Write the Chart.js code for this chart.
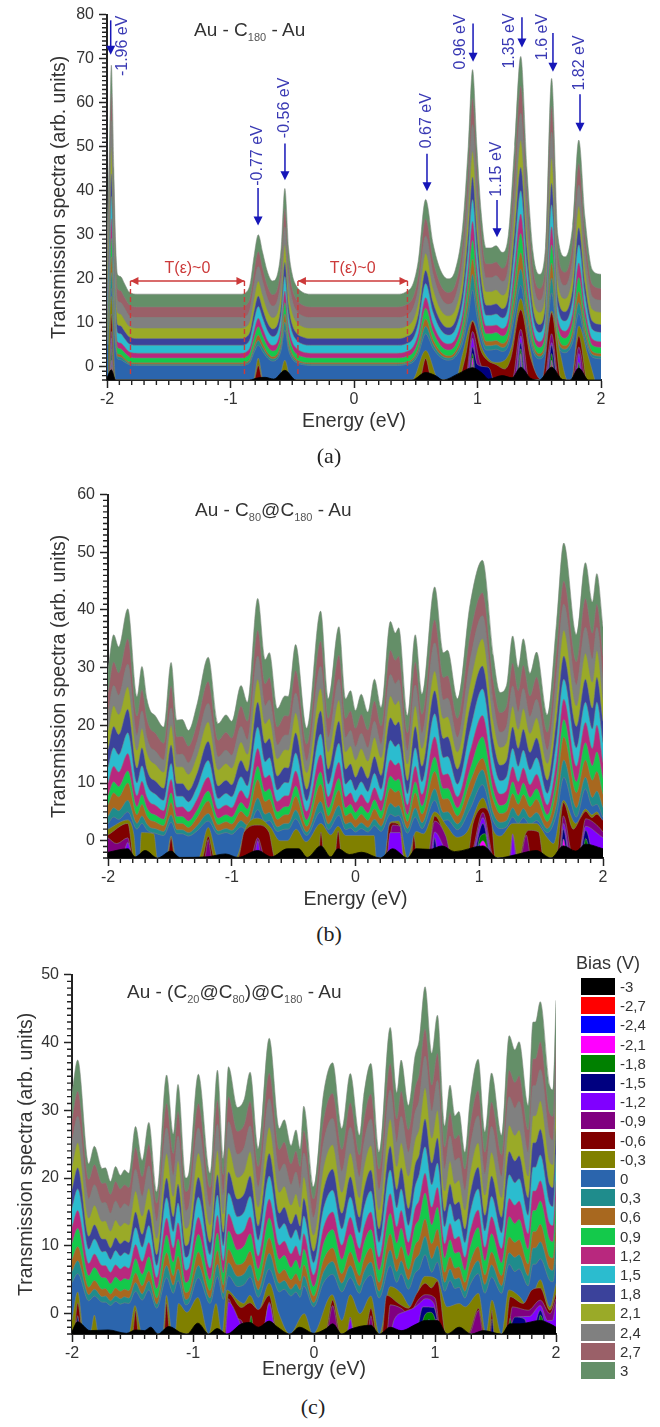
<!DOCTYPE html>
<html>
<head>
<meta charset="utf-8">
<title>Transmission spectra</title>
<script src="https://cdn.jsdelivr.net/npm/chart.js@4"></script>
<style>
body { margin: 0; background: #fff; font-family: "Liberation Sans", Arial, sans-serif; color: #333; }
#page { position: relative; width: 660px; height: 1427px; overflow: hidden; }
canvas { position: absolute; left: 0; }
.label { position: absolute; white-space: nowrap; font-size: 19px; line-height: 22px; }
.label sub { font-size: 11px; line-height: 0; color: #555; }
.caption { position: absolute; font-family: "Liberation Serif", serif; font-size: 22px; line-height: 26px; color: #222; transform: translateX(-50%); }
#legendTitle { position: absolute; left: 576px; top: 952px; font-size: 18px; line-height: 22px; }
.swatch { position: absolute; left: 581px; width: 34px; height: 17px; }
.swatchText { position: absolute; left: 620px; font-size: 15px; line-height: 18px; }
</style>
</head>
<body>
<div id="page">
<canvas id="chartA" width="660" height="433" style="top:0"></canvas>
<canvas id="chartB" width="660" height="431" style="top:480px"></canvas>
<canvas id="chartC" width="660" height="421" style="top:960px"></canvas>
<div class="label" style="left:194px;top:19px">Au - C<sub>180</sub> - Au</div>
<div class="label" style="left:195px;top:499px">Au - C<sub>80</sub>@C<sub>180</sub> - Au</div>
<div class="label" style="left:127px;top:981px">Au - (C<sub>20</sub>@C<sub>80</sub>)@C<sub>180</sub> - Au</div>
<div class="caption" style="left:329px;top:443px">(a)</div>
<div class="caption" style="left:329px;top:921px">(b)</div>
<div class="caption" style="left:313px;top:1394px">(c)</div>
<div id="legendTitle">Bias (V)</div>
</div>
<script>
const biasLabels = ['-3','-2,7','-2,4','-2,1','-1,8','-1,5','-1,2','-0,9','-0,6','-0,3','0','0,3','0,6','0,9','1,2','1,5','1,8','2,1','2,4','2,7','3'];
const biasColors = ['#000000','#ff0000','#0000ff','#ff00ff','#008000','#000080','#8000ff','#800080','#800000','#808000','#2b65ad','#1f8c8c','#a8681f','#14c94b','#b8287e','#2bbccf','#3b429b','#9aaa28','#808080','#9a6068','#648f68'];
const energyTicks = [-2,-1,0,1,2];

// panel (a) Au - C180 - Au
const aE = [-2,-1.98,-1.965,-1.945,-1.93,-1.915,-1.89,-1.86,-1.82,-1.75,-0.92,-0.87,-0.84,-0.81,-0.775,-0.74,-0.7,-0.66,-0.62,-0.59,-0.56,-0.53,-0.5,-0.47,-0.42,-0.35,0.35,0.42,0.48,0.52,0.58,0.64,0.7,0.76,0.82,0.88,0.925,0.96,0.995,1.03,1.07,1.11,1.15,1.2,1.25,1.3,1.35,1.4,1.45,1.5,1.55,1.6,1.65,1.71,1.77,1.82,1.87,1.93,2];
const aT30 = [30,50,68.5,45,28,21,20.5,19,17,16.5,16.5,17,19,25,30,26,21.5,19.5,21,27,40.5,27,21,18.5,17,16.5,16.5,17,19,24,38,28,22,20,22,32,50,67.5,50,35,27,27,27.5,26,30,50,70.5,45,26,21,27,65.5,30,25,32,51.5,34,22,21];
const aT27 = [26.2,44.8,62,40.1,24.3,17.8,17.3,15.9,14.1,13.6,13.6,14.1,15.9,21.5,26.2,22.4,18.3,16.4,17.8,23.4,35.9,23.4,17.8,15.5,14.1,13.6,13.6,14.1,15.9,20.6,33.6,24.3,18.7,16.9,18.7,28,44.8,61,44.8,30.8,23.4,23.4,23.8,22.4,26.2,44.8,63.8,40.1,22.4,17.8,23.4,59.2,26.2,21.5,28,46.2,29.9,18.7,17.8];
const aT24 = [22.8,40,55.9,35.7,21.1,15.1,14.6,13.4,11.6,11.2,11.2,11.6,13.4,18.5,22.8,19.4,15.5,13.8,15.1,20.2,31.8,20.2,15.1,12.9,11.6,11.2,11.2,11.6,13.4,17.7,29.7,21.1,15.9,14.2,15.9,24.5,40,55,40,27.1,20.2,20.2,20.7,19.4,22.8,40,57.6,35.7,19.4,15.1,20.2,53.3,22.8,18.5,24.5,41.3,26.2,15.9,15.1];
const aT21 = [19.5,35.3,49.9,31.3,17.9,12.4,12,10.8,9.2,8.8,8.8,9.2,10.8,15.5,19.5,16.3,12.8,11.2,12.4,17.1,27.8,17.1,12.4,10.4,9.2,8.8,8.8,9.2,10.8,14.7,25.8,17.9,13.1,11.6,13.1,21,35.3,49,35.3,23.4,17.1,17.1,17.5,16.3,19.5,35.3,51.5,31.3,16.3,12.4,17.1,47.5,19.5,15.5,21,36.5,22.6,13.1,12.4];
const aT18 = [16.1,30.5,43.8,26.9,14.7,9.6,9.3,8.2,6.8,6.4,6.4,6.8,8.2,12.5,16.1,13.2,10,8.6,9.6,14,23.7,14,9.6,7.8,6.8,6.4,6.4,6.8,8.2,11.8,21.9,14.7,10.4,8.9,10.4,17.6,30.5,43.1,30.5,19.7,14,14,14.3,13.2,16.1,30.5,45.3,26.9,13.2,9.6,14,41.7,16.1,12.5,17.6,31.6,19,10.4,9.6];
const aT15 = [13.7,26.7,38.7,23.4,12.4,7.8,7.5,6.5,5.2,4.9,4.9,5.2,6.5,10.4,13.7,11.1,8.2,6.9,7.8,11.7,20.5,11.7,7.8,6.2,5.2,4.9,4.9,5.2,6.5,9.8,18.9,12.4,8.5,7.2,8.5,15,26.7,38,26.7,16.9,11.7,11.7,12,11.1,13.7,26.7,40,23.4,11.1,7.8,11.7,36.8,13.7,10.4,15,27.7,16.3,8.5,7.8];
const aT12 = [11,22.7,33.6,19.8,9.8,5.7,5.4,4.6,3.4,3.1,3.1,3.4,4.6,8.1,11,8.7,6,4.9,5.7,9.3,17.2,9.3,5.7,4.3,3.4,3.1,3.1,3.4,4.6,7.5,15.7,9.8,6.3,5.2,6.3,12.2,22.7,33,22.7,14,9.3,9.3,9.5,8.7,11,22.7,34.7,19.8,8.7,5.7,9.3,31.8,11,8.1,12.2,23.6,13.4,6.3,5.7];
const aT09 = [9.1,19.6,29.2,16.9,8,4.4,4.1,3.3,2.3,2,2,2.3,3.3,6.5,9.1,7,4.6,3.6,4.4,7.5,14.6,7.5,4.4,3,2.3,2,2,2.3,3.3,5.9,13.3,8,4.9,3.8,4.9,10.1,19.6,28.7,19.6,11.7,7.5,7.5,7.8,7,9.1,19.6,30.3,16.9,7,4.4,7.5,27.7,9.1,6.5,10.1,20.3,11.2,4.9,4.4];
const aT06 = [7.2,16.4,25,14.1,6.2,3,2.8,2,1.1,0.9,0.9,1.1,2,4.8,7.2,5.3,3.2,2.3,3,5.8,12,5.8,3,1.8,1.1,0.9,0.9,1.1,2,4.4,10.9,6.2,3.5,2.5,3.5,8.1,16.4,24.5,16.4,9.5,5.8,5.8,6,5.3,7.2,16.4,25.9,14.1,5.3,3,5.8,23.6,7.2,4.8,8.1,17.1,9,3.5,3];
const aT03 = [6,14,21.4,12,5.2,2.4,2.2,1.6,0.8,0.6,0.6,0.8,1.6,4,6,4.4,2.6,1.8,2.4,4.8,10.2,4.8,2.4,1.4,0.8,0.6,0.6,0.8,1.6,3.6,9.2,5.2,2.8,2,2.8,6.8,14,21,14,8,4.8,4.8,5,4.4,6,14,22.2,12,4.4,2.4,4.8,20.2,6,4,6.8,14.6,7.6,2.8,2.4];
const aT00 = [4.9,11.6,17.8,9.9,4.2,1.8,1.6,1.1,0.5,0.3,0.3,0.5,1.1,3.2,4.9,3.5,2,1.3,1.8,3.8,8.4,3.8,1.8,1,0.5,0.3,0.3,0.5,1.1,2.8,7.5,4.2,2.2,1.5,2.2,5.5,11.6,17.5,11.6,6.5,3.8,3.8,4,3.5,4.9,11.6,18.5,9.9,3.5,1.8,3.8,16.8,4.9,3.2,5.5,12.1,6.2,2.2,1.8];
// low bias layers only show up under the peaks, so they keep their own points
const aOliveE = [-1.99,-1.965,-1.93,-0.815,-0.775,-0.735,-0.61,-0.56,-0.51,0.47,0.58,0.69,0.82,0.88,0.96,1.04,1.1,1.15,1.22,1.28,1.35,1.42,1.49,1.53,1.6,1.67,1.73,1.76,1.82,1.89,1.95];
const aOliveT = [5,16,-3,-3,2,-3,-3,1.5,-3,-3,3.7,-3,-3,3,10.5,4,1.5,1,1.5,5,15.5,5,-3,-3,12.7,3,-3,-3,9.3,3,-3];
const aMaroonE = [-1.985,-1.965,-1.94,-0.81,-0.775,-0.74,0.53,0.58,0.63,0.84,0.9,0.96,1.03,1.08,1.15,1.22,1.27,1.35,1.43,1.52,1.6,1.68,1.76,1.82,1.88];
const aMaroonT = [-3,12,-3,-3,0.3,-3,-3,1.9,-3,-3,2,10.3,3.5,1.5,0.5,-0.5,2,13,2,-3,12.3,-3,-3,7,-3];
const aPurpleE = [-1.98,-1.965,-1.945,0.9,0.96,1.02,1.1,1.28,1.35,1.42,1.54,1.6,1.66,1.77,1.82,1.87];
const aPurpleT = [-3,8,-3,-3,8,1,-3,-3,8.5,-3,-3,7.5,-3,-3,4.5,-3];
const aVioletE = [-1.975,-1.965,-1.95,0.91,0.96,1.01,1.3,1.35,1.4,1.55,1.6,1.65,1.79,1.82,1.85];
const aVioletT = [-3,6.5,-3,-3,6.5,-3,-3,7,-3,-3,5.5,-3,-3,3,-3];
const aNavyE = [-1.975,-1.965,-1.955,0.92,0.96,1,1.07,1.1,1.13,1.31,1.35,1.39,1.56,1.6,1.64];
const aNavyT = [-3,5,-3,-3,4.5,0.5,0,-0.5,-3,-3,5.5,-3,-3,4.9,-3];
const aGreenE = [-1.975,-1.965,-1.955,0.93,0.96,0.99,1.32,1.35,1.38,1.57,1.6,1.63,1.8,1.82,1.84];
const aGreenT = [-3,4,-3,-3,3,-3,-3,4.1,-3,-3,3,-3,-3,1,-3];
const aMagentaE = [-1.975,-1.965,-1.955,0.94,0.96,0.98,1.33,1.35,1.37,1.58,1.6,1.62];
const aMagentaT = [-3,1.5,-3,-3,2,-3,-3,3,-3,-3,1.5,-3];
const aBlueE = [-1.975,-1.965,-1.955,0.95,0.96,0.97,1.34,1.35,1.36,1.59,1.6,1.61];
const aBlueT = [-3,0.5,-3,-3,0.5,-3,-3,2.5,-3,-3,1,-3];
const aRedE = [-1.975,-1.965,-1.955,1.585,1.6,1.615];
const aRedT = [-3,0,-3,-3,0.5,-3];
const aBlackE = [-2,-1.965,-1.93,-0.85,-0.775,-0.72,-0.65,-0.56,-0.47,0.47,0.58,0.66,0.72,0.85,0.96,1.04,1.09,1.2,1.28,1.35,1.43,1.5,1.6,1.69,1.75,1.82,1.9,2];
const aBlackT = [-2.5,-0.7,-3,-3,-2.5,-2.4,-2.8,-0.8,-3,-3,-1.3,-2,-3,-1.5,-0.2,-1.5,-2.8,-2,-2.5,-0.1,-2.6,-3,-0.1,-2.9,-3,-0.3,-3,-3];

// panel (b) Au - C80@C180 - Au
const bE = [-2,-1.954,-1.914,-1.84,-1.766,-1.726,-1.686,-1.66,-1.62,-1.55,-1.49,-1.444,-1.4,-1.35,-1.28,-1.19,-1.11,-1.046,-1,-0.925,-0.874,-0.79,-0.73,-0.696,-0.632,-0.57,-0.543,-0.484,-0.395,-0.282,-0.22,-0.134,-0.08,-0.04,0,0.046,0.1,0.153,0.207,0.282,0.322,0.349,0.42,0.483,0.537,0.64,0.71,0.744,0.824,0.926,1.026,1.114,1.168,1.22,1.27,1.315,1.356,1.41,1.463,1.55,1.624,1.683,1.785,1.858,1.914,1.95,2];
const bT30 = [29.7,35.7,33.6,40.2,25,30.2,24.6,22.6,21.7,19.7,30.9,20.9,21,19.1,23.7,31.8,20.3,21.8,20.7,26.9,24,42,31.4,32.6,22.9,25.1,25,34,19.5,39.8,24.6,37.1,24.6,26,22.6,25.4,22.3,28,23.1,38,36,36.9,21.7,35.7,25.4,44,32.6,33,24.6,41,48.6,32,25.7,26.9,35.5,30,35,29,32.7,21.8,37.7,51.6,35.7,48.2,41.4,46.3,37];
const bT27 = [25.7,31,29.1,35,21.6,26.2,21.2,19.5,18.7,16.9,26.8,18,18.1,16.4,20.4,27.6,17.4,18.8,17.8,23.3,20.7,36.5,27.2,28.3,19.7,21.7,21.6,29.5,16.7,34.6,21.2,32.2,21.2,22.5,19.5,21.9,19.2,24.2,19.9,33,31.3,32,18.7,31,21.9,38.3,28.3,28.6,21.2,35.7,43,27.7,22.2,23.3,30.8,26,30.4,25.1,28.4,18.8,32.8,45,31,42,36,41,32];
const bT24 = [22.1,26.9,25.2,30.6,18.3,22.5,17.9,16.3,15.6,14,23,14.9,15,13.5,17.2,23.8,14.5,15.7,14.8,19.8,17.5,32,23.4,24.4,16.6,18.3,18.3,25.6,13.8,30.2,17.9,28,17.9,19.1,16.3,18.6,16.1,20.7,16.7,28.8,27.2,27.9,15.6,27,18.6,34.3,24.4,24.7,17.9,31.2,39,23.9,18.8,19.8,26.8,22.3,26.4,21.5,24.5,15.7,28.5,41,27,37,31.5,37,28];
const bT21 = [19.1,23.4,21.9,26.7,15.7,19.5,15.4,14,13.3,11.9,20,12.8,12.8,11.5,14.8,20.6,12.3,13.4,12.6,17.1,15,28,20.3,21.2,14.2,15.8,15.7,22.2,11.8,26.4,15.4,24.4,15.4,16.4,14,16,13.8,17.9,14.4,25.1,23.6,24.3,13.3,23.4,16,29.4,21.2,21.5,15.4,27.2,35,20.8,16.2,17.1,23.3,19.3,22.9,18.6,21.3,13.4,24.9,36.5,23.4,32.5,27.5,33,24.4];
const bT18 = [15.8,19.8,18.4,22.8,12.6,16.1,12.4,11,10.4,9.1,16.6,9.9,9.9,8.7,11.7,17.2,9.5,10.5,9.7,13.9,12,24,16.9,17.7,11.2,12.7,12.6,18.7,8.9,22.5,12.4,20.7,12.4,13.3,11,12.9,10.8,14.6,11.3,21.3,20,20.6,10.4,19.8,12.9,26,17.7,18,12.4,23.3,30.3,17.3,13.1,13.9,19.7,16,19.3,15.3,17.8,10.5,21.1,32,19.8,28,23,28.3,20.7];
const bT15 = [12.7,16.1,14.9,18.7,10,13,9.8,8.7,8.1,7,13.4,7.7,7.7,6.7,9.3,13.9,7.3,8.2,7.6,11.1,9.5,19.7,13.7,14.4,8.8,10.1,10,15.2,6.9,18.5,9.8,16.9,9.8,10.6,8.7,10.2,8.5,11.7,8.9,17.4,16.3,16.8,8.1,16.1,10.2,22,14.4,14.6,9.8,19.1,26.3,14,10.4,11.1,16,12.9,15.7,12.3,14.4,8.2,17.3,28,16.1,24,19.4,24,17];
const bT12 = [10,12.9,11.9,15.1,7.8,10.3,7.6,6.6,6.2,5.2,10.6,5.8,5.9,5,7.2,11,5.5,6.2,5.7,8.7,7.3,16,10.9,11.4,6.8,7.8,7.8,12.1,5.1,14.9,7.6,13.6,7.6,8.3,6.6,8,6.5,9.2,6.9,14,13.1,13.5,6.2,12.9,8,18,11.4,11.6,7.6,15.5,21.7,11.1,8.1,8.7,12.8,10.2,12.6,9.7,11.5,6.2,13.9,24.5,12.9,20.5,16,20,13.5];
const bT09 = [7.8,10.2,9.4,12.1,5.9,8,5.7,4.9,4.5,3.7,8.3,4.2,4.2,3.4,5.3,8.6,3.9,4.5,4.1,6.6,5.5,12.9,8.5,9,5,5.9,5.9,9.5,3.6,11.9,5.7,10.8,5.7,6.3,4.9,6,4.8,7.1,5.1,11.2,10.4,10.7,4.5,10.2,6,14.5,9,9.1,5.7,12.4,18,8.7,6.1,6.6,10.2,7.9,10,7.5,9,4.5,11,21,10.2,17,13,15.4,10.8];
const bT06 = [6.2,8.3,7.6,10,4.5,6.3,4.3,3.6,3.3,2.6,6.6,3,3,2.3,4,6.9,2.8,3.3,2.9,5.1,4.1,10.6,6.8,7.2,3.7,4.5,4.5,7.7,2.5,9.8,4.3,8.8,4.3,4.8,3.6,4.6,3.5,5.5,3.8,9.1,8.4,8.7,3.3,8.3,4.6,12,7.2,7.3,4.3,10.2,14.3,7,4.7,5.1,8.2,6.3,8,5.9,7.2,3.3,9,18,8.3,14,10.5,12,8];
const bT03 = [4.2,5.7,5.2,7,3,4.3,2.9,2.3,2.1,1.6,4.5,1.9,1.9,1.4,2.6,4.7,1.7,2.1,1.8,3.5,2.7,7.4,4.6,4.9,2.4,3,3,5.3,1.5,6.8,2.9,6.1,2.9,3.2,2.3,3.1,2.3,3.7,2.5,6.5,5.8,6.1,2.1,5.7,3.1,9,4.9,5,2.9,7.7,12.3,4.8,3.2,3.5,5.7,4.3,5.6,4,4.9,2.1,6.3,14,5.7,11,7.5,8.6,5.7];
const bT00 = [2.9,4.1,3.7,5,2,3,1.9,1.5,1.3,0.9,3.2,1.2,1.2,0.8,1.7,3.4,1.1,1.4,1.1,2.4,1.8,5.4,3.3,3.5,1.6,2,2,3.8,0.9,5,1.9,4.4,1.9,2.2,1.5,2.1,1.5,2.6,1.6,4.6,4.2,4.4,1.3,4.1,2.1,7,3.5,3.6,1.9,5.5,9.7,3.4,2.1,2.4,4.1,3,4,2.8,3.5,1.4,4.5,11,4.1,9,6,6.3,4];
const bOliveE = [-2,-1.84,-1.79,-1.77,-1.745,-1.73,-1.63,-1.6,-1.53,-1.49,-1.45,-1.27,-1.19,-1.11,-0.97,-0.88,-0.79,-0.69,-0.61,-0.55,-0.48,-0.4,-0.28,-0.2,-0.14,-0.08,0.15,0.17,0.23,0.28,0.35,0.42,0.49,0.55,0.64,0.74,0.82,0.9,1.03,1.12,1.17,1.27,1.36,1.46,1.55,1.6,1.68,1.78,1.86,1.91,1.95,2];
const bOliveT = [2,3.6,1,-3,-3,1.4,1.2,-3,-3,0.8,-3,-3,2.3,-3,-3,2.6,3.9,2.4,0,0,2,-0.2,3,1,2.5,0.9,0.9,-3,-3,3.2,3.4,-3,1.6,1.2,5,2.5,0.6,1.5,7.4,1.5,0.8,3,3,3,0.5,-0.5,7,3,5.5,4.5,5,3];
const bMaroonE = [-2,-1.84,-1.79,-1.52,-1.49,-1.46,-1.24,-1.19,-1.14,-0.95,-0.9,-0.79,-0.7,-0.65,-0.3,-0.28,-0.25,-0.17,-0.14,-0.11,0.24,0.27,0.3,0.35,0.39,0.45,0.47,0.5,0.58,0.64,0.72,0.78,0.9,0.95,1.03,1.1,1.13,1.32,1.37,1.4,1.48,1.52,1.62,1.68,1.76,1.82,1.86,1.91,1.95,2];
const bMaroonT = [1,3,-3,-3,0.5,-3,-3,0.8,-3,-3,1.5,2.7,1.5,-3,-3,1.5,-3,-3,1.7,-3,-3,2.5,3.1,2.8,-3,-3,0.9,-3,-3,4.3,1,-3,-3,3,5.7,3,-3,-3,1,1.8,1.5,-3,-3,6.6,2,4,5.1,4,4.6,3.5];
const bPurpleE = [-2,-1.93,-1.84,-1.8,-1.22,-1.19,-1.16,-0.85,-0.79,-0.73,0.25,0.3,0.36,0.39,0.58,0.64,0.73,0.78,0.92,1.03,1.12,1.24,1.27,1.31,1.33,1.38,1.42,1.64,1.68,1.76,1.8,1.86,1.96,2];
const bPurpleT = [0.5,-0.5,0.5,-3,-3,0.2,-3,-3,0.5,-3,-3,2.7,2.5,-3,-3,3.4,0.8,-3,-3,4.9,-3,-3,1.2,-3,-3,1,-3,-3,4.3,-3,-3,3.8,2.5,1.5];
const bVioletE = [-1.88,-1.84,-1.8,-0.82,-0.79,-0.76,0.25,0.28,0.36,0.39,0.6,0.64,0.7,0.74,0.93,1.03,1.11,1.25,1.27,1.3,1.65,1.68,1.74,1.8,1.86,1.97,2];
const bVioletT = [-3,-0.3,-3,-3,0,-3,-3,1.4,1.4,-3,-3,1.5,-0.5,-3,-3,4,-3,-3,1.1,-3,-3,3,-3,-3,2.5,1,0.5];
const bNavyE = [0.62,0.64,0.67,0.94,1.03,1.1,1.65,1.68,1.73,1.81,1.86,1.92];
const bNavyT = [-3,0.5,-3,-3,3,-3,-3,2,-3,-3,1.8,-3];
const bGreenE = [0.97,1.01,1.05,1.08,1.83,1.86,1.9];
const bGreenT = [-3,0.8,1.2,-3,-3,0.4,-3];
const bMagentaE = [0.96,1.03,1.1,1.66,1.68,1.71];
const bMagentaT = [-3,0,-3,-3,0.3,-3];
const bBlueE = [0.98,1,1.02];
const bBlueT = [-3,-0.5,-3];
const bRedE = [1.67,1.68,1.69];
const bRedT = [-3,-1,-3];
const bBlackE = [-2,-1.84,-1.78,-1.7,-1.6,-1.49,-1.42,-1.2,-1.05,-0.95,-0.79,-0.68,-0.55,-0.46,-0.39,-0.28,-0.2,-0.14,-0.05,0.05,0.2,0.3,0.42,0.49,0.6,0.7,0.8,1.03,1.15,1.3,1.46,1.58,1.68,1.78,1.86,2];
const bBlackT = [-2,-1.4,-2.8,-1.7,-3,-1.8,-2.9,-2.8,-2.3,-2.9,-1.7,-2.8,-1.4,-1.4,-2.9,-0.9,-2.8,-1.4,-2.4,-2,-3,-1.4,-3,-1.4,-1.5,-0.9,-1.9,-0.9,-3,-2.4,-1.7,-3,-0.9,-1.8,-0.6,-1.4];

// panel (c) Au - (C20@C80)@C180 - Au
const cE = [-2,-1.953,-1.862,-1.815,-1.75,-1.724,-1.682,-1.64,-1.6,-1.566,-1.53,-1.475,-1.42,-1.365,-1.3,-1.218,-1.163,-1.124,-1.06,-1.033,-0.956,-0.859,-0.798,-0.749,-0.707,-0.633,-0.577,-0.528,-0.461,-0.37,-0.287,-0.246,-0.19,-0.149,-0.115,-0.085,-0.003,0.08,0.154,0.23,0.3,0.376,0.41,0.47,0.538,0.63,0.684,0.72,0.78,0.835,0.87,0.918,0.973,1.02,1.08,1.124,1.165,1.198,1.247,1.288,1.357,1.412,1.467,1.55,1.613,1.66,1.695,1.77,1.81,1.83,1.87,1.948,1.975,2];
const cT30 = [32.6,37.4,22.1,24.7,21.4,21.5,19.5,21.7,20.4,21.2,20.7,27.6,22.6,28.2,18,35.2,26.5,33.8,20,20.9,35.3,20.7,35.9,22.9,36.4,30.4,31.6,35.6,24.3,40.6,27.3,28.6,24.8,27.1,24.3,30.6,18.7,32.6,37,27.3,35.4,26.3,32,36.9,23.8,42.2,32.6,37.4,30.7,38,40.4,48.2,38.4,44,27.7,33.7,29.2,29.8,23.8,31.1,37.5,26.8,35.5,26.3,41,38.9,40.1,30.7,43,43,46,33.6,33,46.2];
const cT27 = [28.7,32.8,19.8,22,19.2,19.3,17.6,19.5,18.4,19,18.6,24.5,20.2,25,16.3,31,23.6,29.8,18,18.8,31,18.6,31.5,20.5,32,26.9,27.9,31.3,21.7,35.5,24.2,25.3,22.1,24,21.7,27,16.9,28.7,32.5,24.2,31.1,23.4,28.2,32.4,21.3,36.9,28.7,32.8,27.1,33.3,35.4,42,33.7,38.4,24.6,29.7,25.8,26.4,21.3,27.5,32.9,23.8,31.2,23.4,35.9,34.1,35.1,27.1,37.6,37.6,40.1,29.6,29.1,40.3];
const cT24 = [25.3,29.1,16.9,19,16.3,16.4,14.8,16.6,15.5,16.2,15.8,21.3,17.3,21.8,13.6,27.4,20.4,26.2,15.2,15.9,27.4,15.8,27.9,17.5,28.3,23.5,24.5,27.7,18.6,31.7,21,22.1,19,20.9,18.6,23.7,14.2,25.3,28.8,21,27.5,20.2,24.8,28.7,18.2,33,25.3,29.1,23.8,29.6,31.5,38,29.9,34.4,21.4,26.2,22.6,23,18.2,24.1,29.2,20.6,27.6,20.2,32,30.3,31.3,23.8,33.6,33.6,36,26.1,25.6,36.2];
const cT21 = [21.7,25.2,14.1,16,13.6,13.7,12.2,13.8,12.9,13.4,13.1,18.1,14.4,18.5,11.1,23.6,17.3,22.6,12.6,13.2,23.7,13.1,24.1,14.7,24.5,20.1,21,23.9,15.7,27.5,17.9,18.8,16,17.7,15.7,20.2,11.6,21.7,24.9,17.9,23.7,17.1,21.3,24.8,15.3,28.7,21.7,25.2,20.3,25.6,27.4,33.3,25.9,30,18.1,22.5,19.2,19.7,15.3,20.6,25.2,17.5,23.8,17.1,27.8,26.3,27.1,20.3,29.2,29.2,31.4,22.4,22,31.6];
const cT18 = [18.3,21.5,11.4,13.1,11,11,9.7,11.2,10.3,10.8,10.5,15,11.7,15.4,8.7,20,14.3,19.1,10,10.6,20.1,10.5,20.5,12,20.9,16.9,17.7,20.3,12.9,23.6,14.8,15.7,13.2,14.7,12.9,17,9.2,18.3,21.3,14.8,20.2,14.2,18,21.2,12.5,24.7,18.3,21.5,15.5,21.9,23.5,28.7,22.2,25.9,15.1,19.1,16.1,16.5,12.5,17.4,21.6,14.5,20.3,14.2,23.9,22.5,23.3,17.1,25.2,25.2,27.2,19,18.6,27.3];
const cT15 = [15.6,18.4,9.5,11,9.1,9.2,8,9.3,8.5,9,8.7,12.7,9.8,13,7.1,17.1,12.1,16.3,8.3,8.8,17.2,8.7,17.5,10,17.8,14.3,15,17.3,10.8,20.3,12.5,13.3,11.1,12.4,10.8,14.4,7.5,15.6,18.2,12.5,17.2,11.9,15.3,18.1,10.5,21.2,15.6,18.4,13,18.7,20.6,24.6,19,22.2,12.8,16.2,13.6,14,10.5,14.7,18.4,12.2,17.3,11.9,20.5,19.3,19.9,14.5,21.6,21.6,23.4,16.2,15.8,23.5];
const cT12 = [12.8,15.2,7.4,8.8,7.1,7.1,6.1,7.2,6.6,7,6.7,10.2,7.7,10.5,5.3,14.1,9.7,13.4,6.4,6.8,14.2,6.7,14.5,7.8,14.7,11.7,12.3,14.3,8.5,16.9,10.1,10.7,8.8,10,8.5,11.8,5.7,12.8,15,10.1,14.2,9.6,12.5,15,8.3,17.7,12.8,15.2,10.5,15.5,16.8,20.7,15.7,18.6,10.3,13.3,11,11.4,8.3,12,15.3,9.8,14.3,9.6,17,16,16.6,11.8,18.1,18.1,19.6,13.3,13,19.7];
const cT09 = [10.4,12.6,5.6,6.8,5.3,5.3,4.4,5.4,4.8,5.2,5,8.1,5.8,8.4,3.7,11.6,7.6,11,4.6,5,11.7,5,11.9,6,12.2,9.4,10,11.8,6.6,14.1,8,8.6,6.8,7.9,6.6,9.5,4,10.4,12.4,8,11.7,7.5,10.2,12.4,6.4,14.8,10.4,12.6,8.5,12.9,14,17.8,13.1,15.7,8.2,10.9,8.9,9.1,6.4,9.7,12.7,7.8,11.8,7.5,14.3,13.3,13.9,9.5,15.2,15.2,16.6,10.9,10.6,16.7];
const cT06 = [8,9.9,3.9,4.9,3.6,3.7,2.9,3.8,3.3,3.6,3.4,6,4.1,6.3,2.3,9,5.6,8.5,3.1,3.4,9.1,3.4,9.3,4.2,9.5,7.2,7.6,9.2,4.8,11.2,5.9,6.5,5,5.9,4.8,7.2,2.6,8,9.7,5.9,9.1,5.6,7.8,9.7,4.6,11.8,8,9.9,6.5,10.1,11,14,10.3,12.5,6.1,8.4,6.7,6.9,4.6,7.4,9.9,5.7,9.1,5.6,11.3,10.5,10.9,7.3,12.1,12.1,13.2,8.4,8.2,13.3];
const cT03 = [6.2,7.8,2.8,3.6,2.5,2.6,1.9,2.6,2.2,2.5,2.3,4.6,2.9,4.8,1.4,7.1,4.2,6.6,2.1,2.4,7.1,2.3,7.3,3,7.5,5.5,5.9,7.2,3.5,8.9,4.5,4.9,3.6,4.4,3.5,5.6,1.6,6.2,7.7,4.5,7.1,4.1,6,7.6,3.3,9.4,6.2,7.8,5,8,8.8,11.4,8.1,10,4.6,6.6,5.1,5.3,3.3,5.7,7.8,4.3,7.2,4.1,9,8.3,8.7,5.6,9.7,9.7,10.6,6.6,6.4,10.7];
const cT00 = [4.6,5.9,1.9,2.6,1.7,1.7,1.2,1.8,1.4,1.6,1.5,3.3,2,3.5,0.8,5.3,3,4.9,1.3,1.6,5.3,1.5,5.5,2.1,5.6,4,4.3,5.4,2.4,6.6,3.2,3.6,2.6,3.2,2.4,4.1,1,4.6,5.8,3.2,5.3,3,4.5,5.7,2.3,7.1,4.6,5.9,3.6,6,6.6,8.7,6.1,7.6,3.3,4.9,3.7,3.9,2.3,4.2,5.9,3,5.4,3,7.3,6.2,6.6,4.1,7.3,7.3,8.1,4.9,4.7,8.1];
const cOliveE = [-2,-1.953,-1.9,-1.85,-1.815,-1.78,-1.53,-1.48,-1.42,-1.25,-1.22,-1.17,-1.15,-1.12,-1.05,-0.96,-0.87,-0.81,-0.76,-0.72,-0.63,-0.58,-0.53,-0.46,-0.37,-0.29,-0.2,-0.08,-0.01,0.15,0.23,0.3,0.38,0.47,0.54,0.63,0.72,0.8,0.918,1.02,1.1,1.2,1.25,1.36,1.42,1.47,1.55,1.61,1.7,1.77,1.87,1.95,2];
const cOliveT = [-1,3.2,-3,-3,-0.2,-3,-3,1.2,-3,-3,2.7,-3,-3,1.5,0.2,2.4,-3,1.5,-3,3.5,2,1.5,2.7,0.5,4.5,0,-3,0,-3,2.8,-1,2.8,0,2.6,-3,4,3,1,5.5,5,1,1.5,1,3,-3,2,-3,3.5,2.5,1,5,1,4.5];
const cMaroonE = [-1.98,-1.953,-1.91,-1.5,-1.475,-1.45,-1.24,-1.22,-1.19,-0.74,-0.707,-0.6,-0.53,-0.46,-0.37,-0.3,0.09,0.154,0.22,0.27,0.3,0.33,0.42,0.47,0.52,0.56,0.6,0.7,0.78,0.85,0.92,0.97,1.02,1.09,1.27,1.36,1.41,1.45,1.47,1.49,1.58,1.62,1.73,1.8,1.87,1.95,2];
const cMaroonT = [-3,1.6,-3,-3,0.5,-3,-3,1.6,-3,-3,3,0.9,1.6,0.6,2.7,-3,-3,2,-3,-3,-0.5,-3,-3,0.8,-3,-3,2.7,1.5,0.8,3,4.5,3.8,4.8,-3,-3,0.8,-3,-3,0.5,-3,-3,2.5,1.5,3.5,3.8,0.5,3];
const cPurpleE = [-1.97,-1.953,-1.93,-0.72,-0.707,-0.65,-0.6,-0.55,-0.42,-0.37,-0.31,0.1,0.154,0.21,0.28,0.3,0.33,0.44,0.47,0.5,0.6,0.63,0.72,0.78,0.87,0.92,1,1.05,1.28,1.36,1.4,1.6,1.64,1.77,1.87,1.95,2];
const cPurpleT = [-3,-0.5,-3,-3,2.2,-0.5,-1,-3,-3,1.7,-3,-3,1.2,-3,-3,-0.5,-3,-3,-0.3,-3,-3,1.3,0.8,0,2.2,2.8,2.3,-3,-3,0.5,-3,-3,1,0.5,2,0,2.2];
const cVioletE = [-0.73,-0.707,-0.62,-0.58,-0.43,-0.37,-0.31,0.27,0.3,0.33,0.63,0.66,0.75,0.82,0.87,0.92,0.99,1.04,1.64,1.68,1.78,1.87,1.93,1.97,2];
const cVioletT = [-3,1.7,-1,-3,-3,1.5,-3,-3,-0.8,-3,-3,-1,0.3,0.8,1.5,2.2,1.5,-3,-3,-0.5,-0.4,1.2,-1,-1,1.5];
const cNavyE = [-1.97,-1.953,-1.93,0.84,0.9,0.99,1.05,1.46,1.47,1.49,1.6,1.66,1.74,1.78,1.8,1.87,1.93];
const cNavyT = [-3,-0.3,-3,-3,1,0.9,-3,-3,-0.8,-3,-3,-0.5,-0.8,-3,-3,0.5,-3];
const cGreenE = [-0.54,-0.52,-0.49,0.86,0.92,0.96,1,1.02,1.6,1.62,1.65,1.84,1.87,1.92];
const cGreenT = [-3,-0.3,-3,-3,-0.1,0.2,-0.8,-3,-3,-0.7,-3,-3,-0.2,-3];
const cMagentaE = [0.98,1.01,1.03];
const cMagentaT = [-3,-0.8,-3];
const cBlueE = [0.93,0.95,0.97];
const cBlueT = [-3,-0.8,-3];
const cRedE = [0.99,1,1.01];
const cRedT = [-3,-2,-3];
const cBlackE = [-2,-1.953,-1.85,-1.7,-1.55,-1.475,-1.4,-1.35,-1.29,-1.2,-1.1,-1.05,-0.96,-0.87,-0.8,-0.72,-0.6,-0.53,-0.46,-0.37,-0.3,-0.2,-0.12,0,0.1,0.155,0.23,0.3,0.47,0.54,0.63,0.72,0.85,0.92,1.02,1.1,1.2,1.3,1.4,1.55,1.62,1.7,1.87,1.95,2];
const cBlackT = [-2.6,-1.2,-2.5,-2.4,-2.9,-2.4,-2.5,-2,-3,-1.9,-2.8,-3,-1.4,-3,-2.2,-3,-1.5,-1.3,-2,-1.1,-2,-3,-2,-2.9,-2.2,-1.5,-3,-2.3,-1.7,-3,-2,-2.5,-1.5,-1,-1,-3,-2,-3,-2.5,-3,-1.5,-1.5,-1,-1.5,-2];

const aSeries = [[aBlackE,aBlackT],[aRedE,aRedT],[aBlueE,aBlueT],[aMagentaE,aMagentaT],[aGreenE,aGreenT],[aNavyE,aNavyT],[aVioletE,aVioletT],[aPurpleE,aPurpleT],[aMaroonE,aMaroonT],[aOliveE,aOliveT],[aE,aT00],[aE,aT03],[aE,aT06],[aE,aT09],[aE,aT12],[aE,aT15],[aE,aT18],[aE,aT21],[aE,aT24],[aE,aT27],[aE,aT30]];
const bSeries = [[bBlackE,bBlackT],[bRedE,bRedT],[bBlueE,bBlueT],[bMagentaE,bMagentaT],[bGreenE,bGreenT],[bNavyE,bNavyT],[bVioletE,bVioletT],[bPurpleE,bPurpleT],[bMaroonE,bMaroonT],[bOliveE,bOliveT],[bE,bT00],[bE,bT03],[bE,bT06],[bE,bT09],[bE,bT12],[bE,bT15],[bE,bT18],[bE,bT21],[bE,bT24],[bE,bT27],[bE,bT30]];
const cSeries = [[cBlackE,cBlackT],[cRedE,cRedT],[cBlueE,cBlueT],[cMagentaE,cMagentaT],[cGreenE,cGreenT],[cNavyE,cNavyT],[cVioletE,cVioletT],[cPurpleE,cPurpleT],[cMaroonE,cMaroonT],[cOliveE,cOliveT],[cE,cT00],[cE,cT03],[cE,cT06],[cE,cT09],[cE,cT12],[cE,cT15],[cE,cT18],[cE,cT21],[cE,cT24],[cE,cT27],[cE,cT30]];

// peak notes of panel (a), in energy / transmission units
const peakLabels = ['-1.96 eV','-0.77 eV','-0.56 eV','0.67 eV','0.96 eV','1.15 eV','1.35 eV','1.6 eV','1.82 eV'];
const peakArrowE = [-1.97,-0.777,-0.559,0.591,0.964,1.158,1.36,1.611,1.83];
const peakArrowTail = [78.7,40.6,50.7,48.4,78,37.9,79.4,75.8,61.9];
const peakArrowHead = [70.9,32.1,42.4,39.9,69.3,29.4,72.5,67,53.4];
const peakTextE = [-1.87,-0.777,-0.559,0.591,0.866,1.158,1.263,1.53,1.83];
const peakTextT = [72.9,48,58.8,55.9,73.8,44.9,74,74.9,69];
const gapStart = [-1.81,-0.454];
const gapEnd = [-0.887,0.433];

function makeDatasets(series) {
    return series.map((s, i) => ({
        label: biasLabels[i],
        data: s[0].map((x, j) => ({ x: x, y: s[1][j] })),
        backgroundColor: biasColors[i],
        borderColor: i === 0 ? '#000' : 'rgba(125,135,125,0.7)',
        borderWidth: 0.8,
        fill: 'start',
        pointRadius: 0,
        cubicInterpolationMode: 'monotone'
    }));
}

// the small ticks between the labelled ones
const minorTicks = {
    id: 'minorTicks',
    afterDraw(chart) {
        const ctx = chart.ctx, xs = chart.scales.x, ys = chart.scales.y;
        ctx.save();
        ctx.strokeStyle = '#222';
        ctx.lineWidth = 1.4;
        ctx.beginPath();
        for (let i = -20; i <= 20; i++) {
            if (i % 10 === 0) continue;
            const px = xs.getPixelForValue(i / 10);
            ctx.moveTo(px, ys.bottom);
            ctx.lineTo(px, ys.bottom + 5);
        }
        for (let v = -3; v <= ys.max; v++) {
            if (v % 10 === 0) continue;
            const py = ys.getPixelForValue(v);
            ctx.moveTo(xs.left, py);
            ctx.lineTo(xs.left - 5, py);
        }
        ctx.stroke();
        ctx.restore();
    }
};

function arrowHead(ctx, x, y, dx, dy, size) {
    ctx.beginPath();
    ctx.moveTo(x, y);
    ctx.lineTo(x - dx * size - dy * size * 0.5, y - dy * size - dx * size * 0.5);
    ctx.lineTo(x - dx * size + dy * size * 0.5, y - dy * size + dx * size * 0.5);
    ctx.closePath();
    ctx.fill();
}

// blue peak arrows and red T(e)~0 brackets on panel (a)
const peakNotes = {
    id: 'peakNotes',
    afterDraw(chart) {
        const ctx = chart.ctx, xs = chart.scales.x, ys = chart.scales.y;
        ctx.save();
        peakLabels.forEach((text, i) => {
            const px = xs.getPixelForValue(peakArrowE[i]);
            const tail = ys.getPixelForValue(peakArrowTail[i]);
            const head = ys.getPixelForValue(peakArrowHead[i]);
            ctx.strokeStyle = ctx.fillStyle = '#1616b8';
            ctx.lineWidth = 1.5;
            ctx.beginPath();
            ctx.moveTo(px, tail);
            ctx.lineTo(px, head - 4);
            ctx.stroke();
            arrowHead(ctx, px, head, 0, 1, 9);
            ctx.save();
            ctx.translate(xs.getPixelForValue(peakTextE[i]), ys.getPixelForValue(peakTextT[i]));
            ctx.rotate(-Math.PI / 2);
            ctx.fillStyle = '#3a3ab4';
            ctx.font = '16px "Liberation Sans"';
            ctx.textAlign = 'center';
            ctx.textBaseline = 'middle';
            ctx.fillText(text, 0, 0);
            ctx.restore();
        });
        gapStart.forEach((e, i) => {
            const x1 = xs.getPixelForValue(e), x2 = xs.getPixelForValue(gapEnd[i]);
            const y = ys.getPixelForValue(19.5), low = ys.getPixelForValue(-2);
            ctx.strokeStyle = ctx.fillStyle = '#cc3a3a';
            ctx.lineWidth = 1.4;
            ctx.beginPath();
            ctx.moveTo(x1, y);
            ctx.lineTo(x2, y);
            ctx.stroke();
            arrowHead(ctx, x1, y, -1, 0, 8);
            arrowHead(ctx, x2, y, 1, 0, 8);
            ctx.setLineDash([5, 3]);
            ctx.beginPath();
            ctx.moveTo(x1, y);
            ctx.lineTo(x1, low);
            ctx.moveTo(x2, y);
            ctx.lineTo(x2, low);
            ctx.stroke();
            ctx.setLineDash([]);
            ctx.font = '16px "Liberation Sans"';
            ctx.textAlign = 'center';
            ctx.textBaseline = 'middle';
            ctx.fillText('T(ε)~0', (x1 + x2) / 2, ys.getPixelForValue(22.2));
        });
        ctx.restore();
    }
};

function makeChart(id, series, box, yTicks, plugins) {
    const canvas = document.getElementById(id);
    return new Chart(canvas.getContext('2d'), {
        type: 'line',
        data: { datasets: makeDatasets(series) },
        plugins: plugins,
        options: {
            responsive: false,
            animation: false,
            events: [],
            layout: { padding: { left: 0, right: 660 - box.right, top: box.top, bottom: 0 } },
            plugins: { legend: { display: false }, tooltip: { enabled: false } },
            scales: {
                x: {
                    type: 'linear',
                    min: -2,
                    max: 2,
                    afterBuildTicks: s => { s.ticks = energyTicks.map(v => ({ value: v })); },
                    afterFit: s => { s.height = box.xHeight; },
                    ticks: { color: '#333', font: { family: 'Liberation Sans', size: 16 }, padding: 2, maxRotation: 0, autoSkip: false, callback: v => String(v) },
                    grid: { drawOnChartArea: false, tickLength: 8, tickColor: '#222', tickWidth: 1.5 },
                    border: { color: '#222', width: 2 },
                    title: { display: true, text: 'Energy (eV)', color: '#333', font: { family: 'Liberation Sans', size: 19.5 }, padding: 0 }
                },
                y: {
                    min: -3,
                    max: yTicks[yTicks.length - 1],
                    afterBuildTicks: s => { s.ticks = yTicks.map(v => ({ value: v })); },
                    afterFit: s => { s.width = box.left; },
                    ticks: { color: '#333', font: { family: 'Liberation Sans', size: 16 }, padding: 5, autoSkip: false, callback: v => String(v) },
                    grid: { drawOnChartArea: false, tickLength: 8, tickColor: '#222', tickWidth: 1.5 },
                    border: { color: '#222', width: 2 },
                    title: { display: true, text: 'Transmission spectra (arb. units)', color: '#333', font: { family: 'Liberation Sans', size: 19.5 }, padding: { top: box.titlePad, bottom: 0 } }
                }
            }
        }
    });
}

makeChart('chartA', aSeries, { left: 107, right: 601, top: 10, xHeight: 53, titlePad: 48 }, [0,10,20,30,40,50,60,70,80], [minorTicks, peakNotes]);
makeChart('chartB', bSeries, { left: 108, right: 603, top: 10, xHeight: 53, titlePad: 48 }, [0,10,20,30,40,50,60], [minorTicks]);
makeChart('chartC', cSeries, { left: 72, right: 556, top: 11, xHeight: 47, titlePad: 15 }, [0,10,20,30,40,50], [minorTicks]);

// legend
const page = document.getElementById('page');
biasLabels.forEach((text, i) => {
    const box = document.createElement('div');
    box.className = 'swatch';
    box.style.top = (978 + i * 19.2) + 'px';
    box.style.background = biasColors[i];
    page.appendChild(box);
    const label = document.createElement('div');
    label.className = 'swatchText';
    label.style.top = (978 + i * 19.2) + 'px';
    label.textContent = text;
    page.appendChild(label);
});
</script>
</body>
</html>
